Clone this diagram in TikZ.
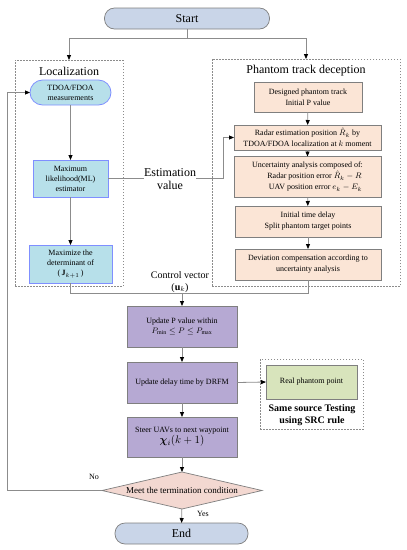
\documentclass[tikz,border=0pt]{standalone}
\usepackage{fontspec}
\setmainfont{Liberation Serif}
\usepackage{amsmath,amssymb,bm}
\usetikzlibrary{shapes.geometric,arrows.meta}

\definecolor{edgegrey}{HTML}{7F7F7F}
\definecolor{linegrey}{HTML}{8C8C8C}
\definecolor{termblue}{HTML}{C9D5E8}
\definecolor{locblue}{HTML}{B7E0EA}
\definecolor{locedge}{HTML}{7F8FFF}
\definecolor{peach}{HTML}{FBE5D6}
\definecolor{lilac}{HTML}{B6A9D3}
\definecolor{leaf}{HTML}{D8E4BC}
\definecolor{blush}{HTML}{F3D8D1}

\tikzset{
  flow/.style={draw=linegrey, line width=0.8pt},
  arrowline/.style={flow, -{Triangle[length=5pt,width=4pt,color=black]}},
  frame/.style={draw=linegrey, dash pattern=on 1.5pt off 1.5pt, line width=0.6pt},
  term/.style={draw=edgegrey, fill=termblue, rounded corners=10pt, line width=0.7pt,
    font=\fontsize{12}{14}\selectfont},
  locbox/.style={draw=locedge, fill=locblue, line width=0.8pt},
  trackbox/.style={draw=edgegrey, fill=peach, line width=0.7pt, font=\fontsize{8}{11}\selectfont},
  ctrlbox/.style={draw=edgegrey, fill=lilac, line width=0.7pt},
}

\begin{document}
\begin{tikzpicture}[x=1pt,y=-1pt,
  every node/.style={font=\fontsize{8}{10}\selectfont, align=center, inner sep=1pt, outer sep=0pt}]
\useasboundingbox (0,0) rectangle (407,550);

% Dashed frames
\node[frame, minimum width=108pt, minimum height=226pt] (loc) at (69,173) {};
\node[frame, minimum width=188pt, minimum height=227pt] (pht) at (306,172.5) {};
\node[frame, minimum width=103pt, minimum height=70pt] (src) at (311.5,394) {};
\node[font=\fontsize{12}{14}\selectfont] (loctitle) at (69,71) {Localization};
\node[font=\fontsize{12}{14}\selectfont] (phttitle) at (306,71) {Phantom track deception};

% Start and end
\node[term, minimum width=165pt, minimum height=21pt] (start) at (187,18.5) {Start};
\node[term, minimum width=133pt, minimum height=21pt] (end) at (181.5,533.5) {End};

% Localization column
\node[locbox, rounded corners=12.5pt, minimum width=81pt, minimum height=25pt] (tdoa) at (70.5,92.5)
  {TDOA/FDOA\\measurements};
\node[locbox, minimum width=75pt, minimum height=37pt] (ml) at (70.5,178.5)
  {Maximum\\likelihood(ML)\\estimator};
\node[locbox, minimum width=83pt, minimum height=38pt] (maxdet) at (70.5,264)
  {Maximize the\\determinant of\\(\,$\mathbf{J}_{k+1}$\,)};

% Phantom track column
\node[trackbox, minimum width=108pt, minimum height=30pt] (design) at (308,97)
  {Designed phantom track\\Initial P value};
\node[trackbox, minimum width=147pt, minimum height=25pt] (radar) at (307.5,137.5)
  {Radar estimation position $\hat{R}_k$ by\\TDOA/FDOA localization at $k$ moment};
\node[trackbox, minimum width=147pt, minimum height=41pt] (unc) at (307.5,177)
  {Uncertainty analysis composed of:\\\hspace*{14pt}Radar position error $\hat{R}_k-R$\\\hspace*{16pt}UAV position error $e_k-E_k$};
\node[trackbox, minimum width=146pt, minimum height=31pt] (delay) at (308,221.5)
  {Initial time delay\\Split phantom target points};
\node[trackbox, minimum width=146pt, minimum height=31pt] (dev) at (308,264.5)
  {Deviation compensation according to\\uncertainty analysis};

% Control column
\node[ctrlbox, minimum width=110pt, minimum height=41pt] (updp) at (182,326.5)
  {Update P value within\\$P_{\min}\le P\le P_{\max}$};
\node[ctrlbox, minimum width=110pt, minimum height=41pt] (upd) at (182,382.5)
  {Update delay time by DRFM};
\node[ctrlbox, minimum width=110pt, minimum height=40pt] (steer) at (182,437)
  {Steer UAVs to next waypoint\\[1pt]{\fontsize{11}{12}\selectfont $\bm{\chi}_i(k+1)$}};
\node[diamond, aspect=4.3, draw=edgegrey, fill=blush, line width=0.7pt, inner sep=0pt,
  minimum width=160pt, minimum height=37pt, font=\fontsize{9}{11}\selectfont] (cond) at (182,490.5)
  {Meet the termination condition};

% Same source test
\node[draw=edgegrey, fill=leaf, line width=0.7pt, minimum width=91pt, minimum height=34pt] (real) at (311.5,382)
  {Real phantom point};
\node[font=\bfseries\fontsize{10}{12}\selectfont] (srctext) at (312,415) {Same source Testing\\using SRC rule};

% Connectors
\coordinate (fork) at (187,38);
\draw[flow] (start.south) -- (fork);
\draw[arrowline] (fork) -| (loc.north);
\draw[arrowline] (fork) -| (pht.north);
\draw[arrowline] (tdoa.south) -- (ml.north);
\draw[arrowline] (ml.south) -- (maxdet.north);
\draw[arrowline] (ml.east) -- ++(115,0) |- (radar.west);
\draw[arrowline] (design) -- (radar);
\draw[arrowline] (radar) -- (unc);
\draw[arrowline] (unc) -- (delay);
\draw[arrowline] (delay) -- (dev);
\coordinate (join) at (182,293);
\draw[flow] (maxdet.south) |- (join);
\draw[flow] (dev.south) |- (join);
\draw[arrowline] (join) -- (updp.north);
\draw[arrowline] (updp) -- (upd);
\draw[arrowline] (upd) -- (steer);
\draw[arrowline] (steer) -- (cond);
\draw[arrowline] (cond) -- (end);
\draw[arrowline] (upd.east) -- (real.west);
\draw[arrowline] (cond.west) -- ++(-95,0) |- (tdoa.west);

% Labels
\node[fill=white, inner sep=0pt, font=\fontsize{12}{13}\selectfont] (estlabel) at (170,179) {Estimation\\value};
\node[font=\fontsize{10}{12}\selectfont] (ctrllabel) at (180,282) {Control vector\\($\mathbf{u}_k$)};
\node (nolabel) at (94,477) {No};
\node (yeslabel) at (203,514) {Yes};
\end{tikzpicture}
\end{document}
